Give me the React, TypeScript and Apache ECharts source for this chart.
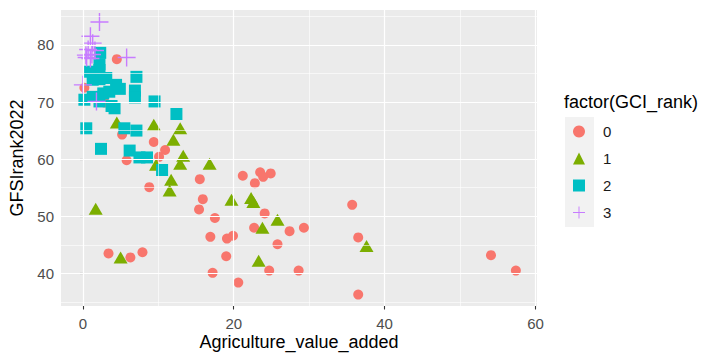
import React, { useEffect, useRef } from "react";
import * as echarts from "echarts";

const xTickValues = [0, 20, 40, 60];
const yTickValues = [40, 50, 60, 70, 80];
const xMinorGrid = [10, 30, 50];
const yMinorGrid = [35, 45, 55, 65, 75, 85];
const categories = ["0", "1", "2", "3"];

const rank0: number[][] = [
  [0.2, 72.5], [4.5, 77.5], [2.9, 69.9], [5.2, 64.3], [5.8, 59.8], [9.4, 63.0],
  [10.9, 61.6], [10.1, 60.4], [8.8, 55.1], [15.5, 56.5], [15.9, 53.0], [15.4, 51.2],
  [17.5, 49.7], [21.2, 57.1], [23.5, 57.7], [24.9, 57.5], [23.9, 56.9], [22.8, 55.8],
  [24.1, 50.5], [22.7, 48.0], [27.4, 47.4], [29.3, 48.0], [16.9, 46.4], [19.1, 46.1],
  [19.9, 46.6], [25.8, 45.1], [19.0, 43.0], [17.2, 40.1], [24.7, 40.5], [28.6, 40.5],
  [20.6, 38.4], [35.7, 52.0], [36.5, 46.3], [36.5, 36.3], [54.1, 43.2], [57.4, 40.5],
  [3.4, 43.5], [6.3, 42.8], [7.9, 43.7],
];
const rank1: number[][] = [
  [4.5, 66.4], [9.4, 66.0], [12.9, 65.4], [12.0, 63.4], [13.3, 60.6], [9.7, 59.0],
  [12.9, 59.2], [16.8, 59.2], [11.7, 56.4], [11.5, 54.5], [1.7, 51.3], [19.7, 52.9],
  [22.3, 53.2], [22.6, 52.5], [25.8, 49.4], [23.8, 48.0], [23.3, 42.2], [37.6, 44.8],
  [5.0, 42.8],
];
const rank2: number[][] = [
  [0.2, 70.4], [0.45, 65.4], [2.4, 61.8], [6.2, 61.5], [7.5, 60.3], [8.5, 60.3],
  [10.5, 58.1], [12.4, 67.9], [9.5, 70.1], [5.5, 65.4], [7.1, 65.0], [3.8, 69.3],
  [4.2, 68.9], [2.2, 70.1], [1.3, 70.9], [2.7, 71.5], [3.5, 71.8], [6.9, 72.0],
  [6.9, 70.8], [4.9, 72.3], [4.4, 73.0], [3.1, 74.2], [2.2, 74.0], [1.3, 73.9],
  [2.2, 75.6], [0.9, 75.3], [7.1, 74.4], [2.3, 78.6], [2.2, 76.6],
];
const rank3: number[][] = [
  [2.2, 84.0], [1.0, 81.5], [1.3, 80.3], [1.6, 79.0], [0.7, 79.2], [0.4, 78.2],
  [1.0, 77.6], [0.5, 77.8], [1.2, 78.3], [5.8, 77.8], [0.0, 73.0], [1.8, 70.1],
];

const groups = [rank0, rank1, rank2, rank3];
const colors = ["#F8766D", "#7CAE00", "#00BFC4", "#C77CFF"];
const CROSS = "path://M0,8.3H18V9.7H0Z M8.3,0H9.7V18H8.3Z";
const symbols = ["circle", "triangle", "rect", CROSS];
const sizes: any[] = [10, [14, 12], 12, 18];

const FONT = "Liberation Sans, Arial, sans-serif";

export default function App() {
  const ref = useRef<HTMLDivElement>(null);
  useEffect(() => {
    if (!ref.current) return;
    const chart = echarts.init(ref.current, undefined, { renderer: "svg" });
    const gridLines = [
      ...xTickValues.map((v) => ({ xAxis: v, lineStyle: { width: 1.2 } })),
      ...yTickValues.map((v) => ({ yAxis: v, lineStyle: { width: 1.2 } })),
      ...xMinorGrid.map((v) => ({ xAxis: v, lineStyle: { width: 0.6 } })),
      ...yMinorGrid.map((v) => ({ yAxis: v, lineStyle: { width: 0.6 } })),
    ];
    const option: any = {
      animation: false,
      textStyle: { fontFamily: FONT },
      grid: {
        left: 61,
        top: 10,
        width: 476,
        height: 296,
        show: true,
        backgroundColor: "#EBEBEB",
        borderWidth: 0,
        containLabel: false,
        outerBoundsMode: "none",
      },
      xAxis: {
        type: "value",
        min: -2.9,
        max: 60.2,
        name: "Agriculture_value_added",
        nameLocation: "middle",
        nameGap: 36,
        nameMoveOverlap: false,
        nameTextStyle: { fontSize: 18, color: "#000", fontFamily: FONT, verticalAlign: "middle" },
        axisLine: { show: false },
        axisTick: { show: true, length: 3.5, customValues: xTickValues, lineStyle: { color: "#333", width: 1.1 } },
        axisLabel: { customValues: xTickValues, fontSize: 15, color: "#4D4D4D", margin: 10, fontFamily: FONT },
        splitLine: { show: false },
      },
      yAxis: {
        type: "value",
        min: 34.3,
        max: 86.1,
        name: "GFSIrank2022",
        nameLocation: "middle",
        nameGap: 31,
        nameRotate: 90,
        nameTextStyle: { fontSize: 18, color: "#000", fontFamily: FONT },
        axisLine: { show: false },
        axisTick: { show: true, length: 3.5, customValues: yTickValues, lineStyle: { color: "#333", width: 1.1 } },
        axisLabel: { customValues: yTickValues, fontSize: 15, color: "#4D4D4D", margin: 7, fontFamily: FONT },
        splitLine: { show: false },
      },
      legend: {
        orient: "vertical",
        left: 573,
        top: 124,
        padding: 0,
        itemWidth: 12,
        itemHeight: 12,
        itemGap: 12,
        textStyle: { fontSize: 15, color: "#1A1A1A", fontFamily: FONT, padding: [0, 0, 0, 13] },
        data: categories.map((c, i) => ({ name: c, icon: symbols[i] })),
      },
      graphic: [
        { type: "rect", left: 565, top: 117, shape: { width: 29, height: 110 }, style: { fill: "#F2F2F2" }, z: -1 },
        {
          type: "text",
          left: 564,
          top: 93,
          style: { text: "factor(GCI_rank)", fontSize: 18, fill: "#000", fontFamily: FONT },
        },
      ],
      series: [
        {
          type: "scatter",
          data: [],
          z: 1,
          silent: true,
          markLine: {
            silent: true,
            symbol: ["none", "none"],
            label: { show: false },
            lineStyle: { color: "#FFFFFF", type: "solid" },
            data: gridLines,
          },
        },
        ...groups.map((g, i) => ({
          type: "scatter",
          name: categories[i],
          data: g,
          z: 2,
          symbol: symbols[i],
          symbolSize: sizes[i],
          itemStyle: { color: colors[i], opacity: 1 },
        })),
      ],
    };
    chart.setOption(option);
    return () => chart.dispose();
  }, []);
  return <div ref={ref} style={{ position: "fixed", left: 0, top: 0, width: 703, height: 353, background: "#fff" }} />;
}
